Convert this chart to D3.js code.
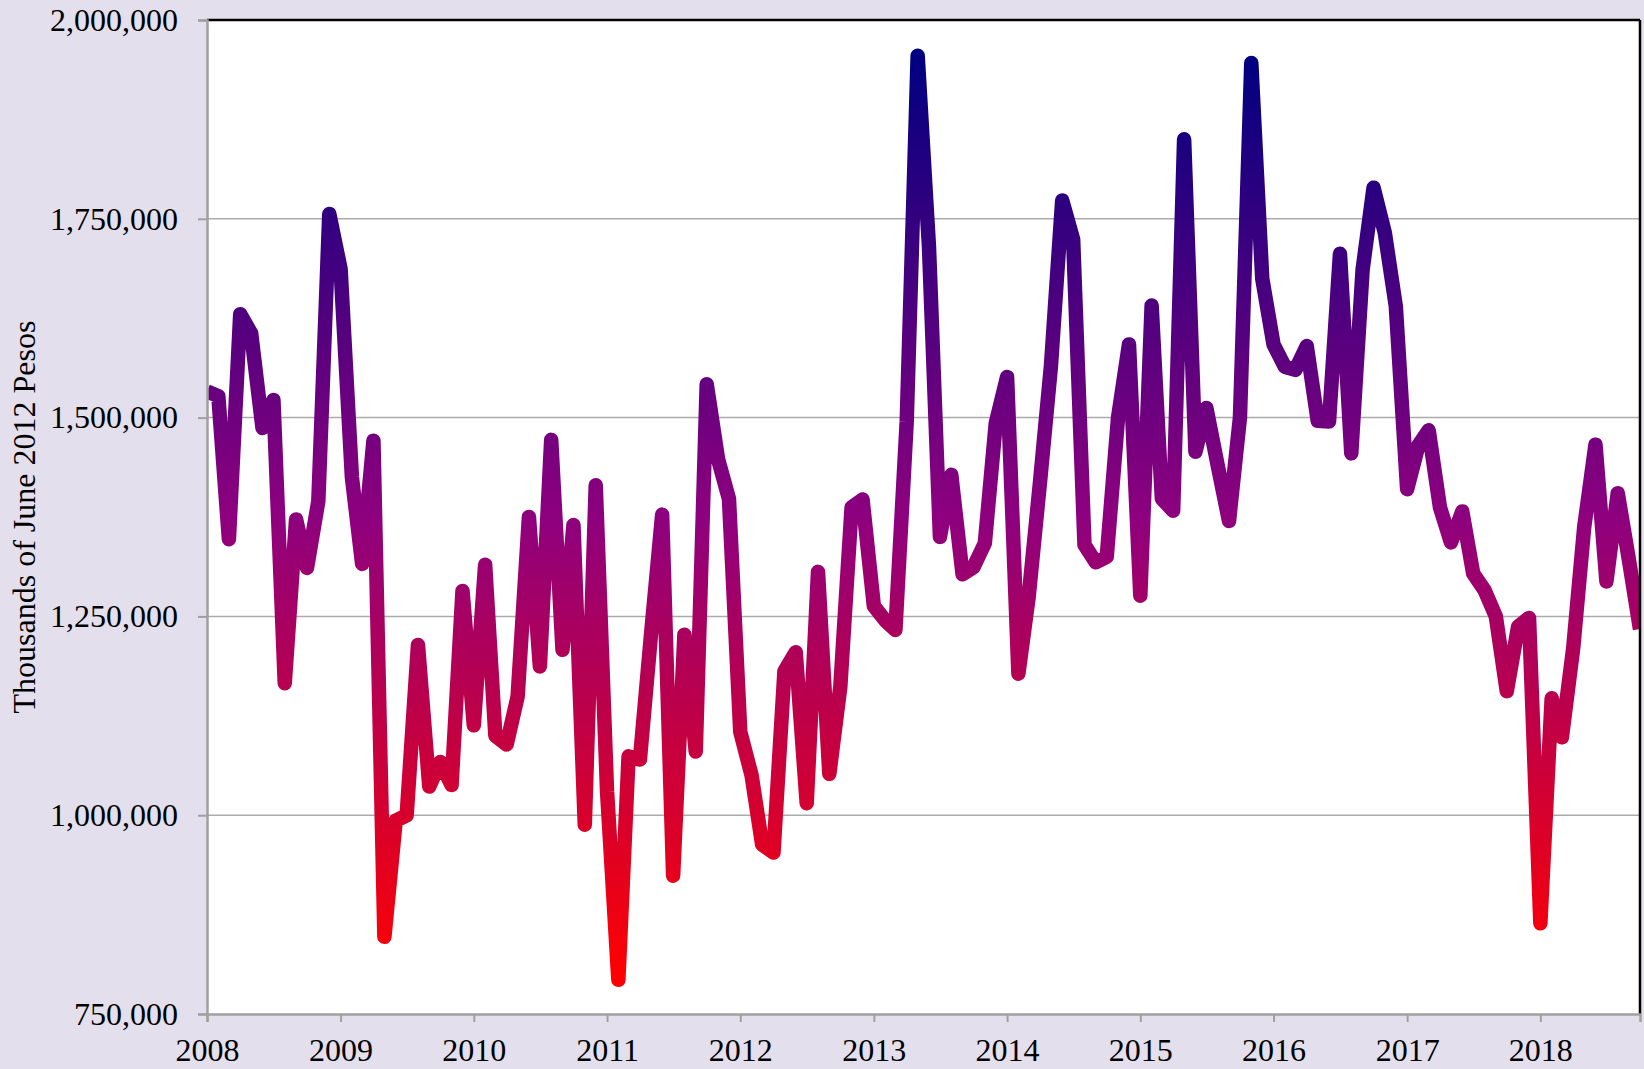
<!DOCTYPE html>
<html>
<head>
<meta charset="utf-8">
<script src="https://cdn.jsdelivr.net/npm/d3@7"></script>
<style>
  html, body { margin: 0; padding: 0; background: #e4dfec; }
  svg { display: block; }
  text { font-family: "Liberation Serif", "Times New Roman", serif; fill: #000; }
</style>
</head>
<body>
<svg id="chart" width="1644" height="1069"></svg>
<script>
// Monthly series, January 2008 onward (thousands of June 2012 pesos)
const firstMonth = new Date(2008, 0, 1);
const values2008 = [1533000, 1527000, 1347000, 1630000, 1606000, 1487000, 1522000, 1166000, 1372000, 1311000, 1395000, 1756000];
const values2009 = [1687000, 1425000, 1316000, 1471000, 847000, 993000, 1000000, 1214000, 1036000, 1067000, 1038000, 1282000];
const values2010 = [1113000, 1315000, 1100000, 1089000, 1149000, 1375000, 1187000, 1472000, 1208000, 1365000, 988000, 1415000];
const values2011 = [1030000, 793000, 1074000, 1070000, 1225000, 1378000, 924000, 1227000, 1080000, 1542000, 1448000, 1398000];
const values2012 = [1105000, 1050000, 963000, 953000, 1181000, 1205000, 1015000, 1306000, 1052000, 1161000, 1387000, 1397000];
const values2013 = [1263000, 1245000, 1233000, 1495000, 1955000, 1715000, 1350000, 1428000, 1303000, 1312000, 1342000, 1493000];
const values2014 = [1551000, 1178000, 1274000, 1418000, 1564000, 1773000, 1724000, 1340000, 1318000, 1325000, 1500000, 1592000];
const values2015 = [1276000, 1641000, 1398000, 1383000, 1850000, 1457000, 1512000, 1440000, 1370000, 1500000, 1946000, 1675000];
const values2016 = [1592000, 1564000, 1560000, 1590000, 1496000, 1495000, 1706000, 1455000, 1686000, 1789000, 1732000, 1640000];
const values2017 = [1410000, 1465000, 1484000, 1387000, 1343000, 1382000, 1304000, 1283000, 1250000, 1156000, 1237000, 1248000];
const values2018 = [864000, 1147000, 1098000, 1210000, 1362000, 1466000, 1294000, 1405000, 1320000, 1234000];

const yTicks = [750000, 1000000, 1250000, 1500000, 1750000, 2000000];
const xTickYears = [2008, 2009, 2010, 2011, 2012, 2013, 2014, 2015, 2016, 2017, 2018];
const yTitle = "Thousands of June 2012 Pesos";

const values = [].concat(values2008, values2009, values2010, values2011, values2012,
  values2013, values2014, values2015, values2016, values2017, values2018);
const series = values.map((v, i) => ({ date: d3.timeMonth.offset(firstMonth, i), value: v }));

const W = 1644, H = 1069;
const margin = { top: 20, right: 4, bottom: 55, left: 207 };
const innerW = W - margin.left - margin.right;
const innerH = H - margin.top - margin.bottom;

const svg = d3.select("#chart");
svg.append("rect").attr("width", W).attr("height", H).attr("fill", "#e4dfec");

const g = svg.append("g").attr("transform", `translate(${margin.left},${margin.top})`);

const x = d3.scaleTime()
  .domain([firstMonth, series[series.length - 1].date])
  .range([0, innerW]);
const y = d3.scaleLinear()
  .domain([yTicks[0], yTicks[yTicks.length - 1]])
  .range([innerH, 0]);

// plot background
g.append("rect").attr("width", innerW).attr("height", innerH).attr("fill", "#ffffff");

// horizontal gridlines
g.append("g")
  .selectAll("line")
  .data(yTicks.slice(1, -1))
  .join("line")
  .attr("x1", 0).attr("x2", innerW)
  .attr("y1", d => y(d)).attr("y2", d => y(d))
  .attr("stroke", "#ababab").attr("stroke-width", 1.5);

// colour runs with level: red at the lowest month, navy at the highest
const vMin = d3.min(values), vMax = d3.max(values);
const defs = svg.append("defs");
const grad = defs.append("linearGradient")
  .attr("id", "levelGrad")
  .attr("gradientUnits", "userSpaceOnUse")
  .attr("x1", 0).attr("x2", 0)
  .attr("y1", y(vMin)).attr("y2", y(vMax));
grad.append("stop").attr("offset", "0%").attr("stop-color", "#ff0000");
grad.append("stop").attr("offset", "50%").attr("stop-color", "#8e007e");
grad.append("stop").attr("offset", "100%").attr("stop-color", "#000080");

defs.append("clipPath").attr("id", "plotClip")
  .append("rect").attr("width", innerW).attr("height", innerH);

const line = d3.line()
  .x(d => x(d.date))
  .y(d => y(d.value));

g.append("path")
  .datum(series)
  .attr("clip-path", "url(#plotClip)")
  .attr("fill", "none")
  .attr("stroke", "url(#levelGrad)")
  .attr("stroke-width", 14.5)
  .attr("stroke-linejoin", "round")
  .attr("stroke-linecap", "butt")
  .attr("d", line);

// frame: dark top and right edges
g.append("line").attr("x1", 0).attr("x2", innerW).attr("y1", 0).attr("y2", 0)
  .attr("stroke", "#000").attr("stroke-width", 2.5);
g.append("line").attr("x1", innerW).attr("x2", innerW).attr("y1", 0).attr("y2", innerH)
  .attr("stroke", "#000").attr("stroke-width", 2.5);

// y axis
const yAxis = g.append("g")
  .call(d3.axisLeft(y).tickValues(yTicks).tickFormat(d3.format(",")).tickSize(9).tickPadding(20));
yAxis.select(".domain").attr("stroke", "#a0a0a0").attr("stroke-width", 2.5);
yAxis.selectAll(".tick line").attr("stroke", "#a0a0a0").attr("stroke-width", 2);
yAxis.selectAll(".tick text")
  .style("font-family", '"Liberation Serif", "Times New Roman", serif')
  .style("font-size", "32px").attr("fill", "#000");

// x axis
const xAxis = g.append("g")
  .attr("transform", `translate(0,${innerH})`)
  .call(d3.axisBottom(x)
    .tickValues(xTickYears.map(yr => new Date(yr, 0, 1)))
    .tickFormat(d3.timeFormat("%Y"))
    .tickSize(8).tickPadding(16));
xAxis.select(".domain").attr("stroke", "#a0a0a0").attr("stroke-width", 2.5);
xAxis.selectAll(".tick line").attr("stroke", "#a0a0a0").attr("stroke-width", 2);
xAxis.selectAll(".tick text")
  .style("font-family", '"Liberation Serif", "Times New Roman", serif')
  .style("font-size", "32px").attr("fill", "#000");

// y axis title
svg.append("text")
  .attr("transform", `translate(35,${margin.top + innerH / 2}) rotate(-90)`)
  .attr("text-anchor", "middle")
  .style("font-size", "32px")
  .text(yTitle);
</script>
</body>
</html>
